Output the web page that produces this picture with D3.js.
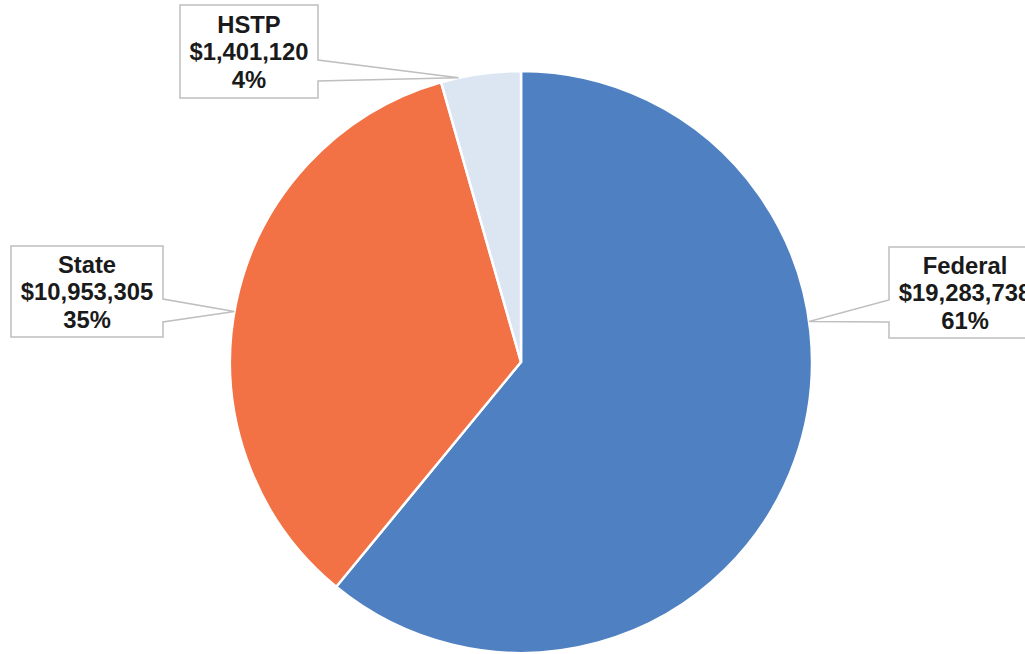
<!DOCTYPE html>
<html>
<head>
<meta charset="utf-8">
<script src="https://cdn.jsdelivr.net/npm/d3@7"></script>
<style>
  body { margin: 0; background: #fff; }
  svg { display: block; }
</style>
</head>
<body>
<div id="container"></div>
<script>
// data
const categories = ["Federal", "State", "HSTP"];
const amounts = [19283738, 10953305, 1401120];
const percentLabels = ["61%", "35%", "4%"];
const colors = ["#4F80C1", "#F27145", "#DCE5F2"];

// callout layout: box left/top/size, which side the tail sits on, and the angle (deg) the tail points to
const callouts = [
  { x: 889, y: 247, w: 152, h: 91, side: "left", tailTop: 53, tailBottom: 75, angle: 82 },
  { x: 11, y: 246, w: 152, h: 91, side: "right", tailTop: 53, tailBottom: 76, angle: 280 },
  { x: 180, y: 5, w: 138, h: 93, side: "right", tailTop: 55, tailBottom: 76, angle: 347.6 }
];

const width = 1025,
  height = 654;
const cx = 521,
  cy = 362,
  radius = 291;

const svg = d3
  .select("#container")
  .append("svg")
  .attr("width", width)
  .attr("height", height);

const fmt = d3.format("$,");

const data = categories.map((c, i) => ({ name: c, value: amounts[i], pct: percentLabels[i], color: colors[i] }));

const pie = d3.pie().value(d => d.value).sort(null);
const arc = d3.arc().innerRadius(0).outerRadius(radius);

const pieG = svg.append("g").attr("transform", `translate(${cx},${cy})`);

pieG
  .selectAll("path")
  .data(pie(data))
  .enter()
  .append("path")
  .attr("d", arc)
  .attr("fill", d => d.data.color)
  .attr("stroke", "#fff")
  .attr("stroke-width", 2.5)
  .attr("stroke-linejoin", "round");

// callout labels
const labels = svg.append("g").attr("id", "labels");

data.forEach((d, i) => {
  const c = callouts[i];
  const a = (c.angle * Math.PI) / 180;
  const tipX = cx + Math.sin(a) * radius;
  const tipY = cy - Math.cos(a) * radius;
  const x0 = c.x, y0 = c.y, x1 = c.x + c.w, y1 = c.y + c.h;
  let p;
  if (c.side === "right") {
    p = `M${x0},${y0}H${x1}V${y0 + c.tailTop}L${tipX},${tipY}L${x1},${y0 + c.tailBottom}V${y1}H${x0}Z`;
  } else {
    p = `M${x0},${y0}H${x1}V${y1}H${x0}V${y0 + c.tailBottom}L${tipX},${tipY}L${x0},${y0 + c.tailTop}Z`;
  }
  const g = labels.append("g");
  g.append("path")
    .attr("d", p)
    .attr("fill", "#fff")
    .attr("stroke", "#BFBFBF")
    .attr("stroke-width", 1.5);

  const lines = [d.name, fmt(d.value), d.pct];
  const mid = c.x + c.w / 2;
  const midY = c.y + c.h / 2;
  g.append("text")
    .attr("x", mid)
    .attr("text-anchor", "middle")
    .attr("font-family", "'Liberation Sans', Arial, sans-serif")
    .attr("font-weight", "bold")
    .attr("font-size", "23.8px")
    .attr("fill", "#1a1a1a")
    .selectAll("tspan")
    .data(lines)
    .enter()
    .append("tspan")
    .attr("x", mid)
    .attr("y", (t, j) => midY + 8.5 + (j - 1) * 27.5)
    .text(t => t);
});
</script>
</body>
</html>
